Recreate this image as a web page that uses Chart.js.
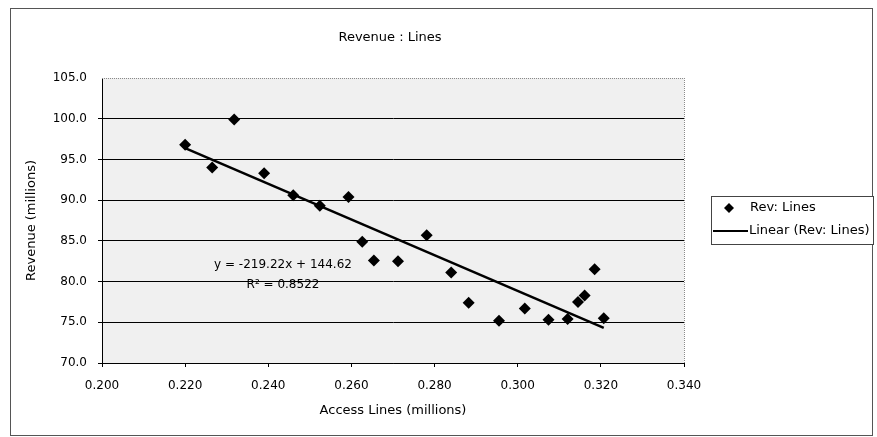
<!DOCTYPE html>
<html>
<head>
<meta charset="utf-8">
<title>Revenue : Lines</title>
<script src="https://cdn.jsdelivr.net/npm/chart.js@4.4.1/dist/chart.umd.min.js"></script>
<style>
  html, body { margin: 0; padding: 0; background: #ffffff; }
  #wrap { width: 877px; height: 437px; position: relative; }
</style>
</head>
<body>
<div id="wrap"><canvas id="chart" width="877" height="437"></canvas></div>
<script>
// Access lines (millions) and revenue (millions) per observation
const accessLines = [0.2200, 0.2265, 0.2318, 0.2390, 0.2460, 0.2524, 0.2593, 0.2626, 0.2654, 0.2712, 0.2781,
                     0.2840, 0.2882, 0.2955, 0.3017, 0.3074, 0.3120, 0.3145, 0.3161, 0.3185, 0.3207];
const revenue     = [96.8, 94.0, 99.9, 93.3, 90.6, 89.3, 90.4, 84.9, 82.6, 82.5, 85.7,
                     81.1, 77.4, 75.2, 76.7, 75.3, 75.4, 77.5, 78.3, 81.5, 75.5];

// Least-squares fit shown on the chart
const fitSlope = -219.22;
const fitIntercept = 144.62;
const fitR2 = 0.8522;

const xTicks = [0.200, 0.220, 0.240, 0.260, 0.280, 0.300, 0.320, 0.340];
const yTicks = [70.0, 75.0, 80.0, 85.0, 90.0, 95.0, 100.0, 105.0];

const chartTitle = 'Revenue : Lines';
const xTitle = 'Access Lines (millions)';
const yTitle = 'Revenue (millions)';
const seriesName = 'Rev: Lines';
const trendName = 'Linear (Rev: Lines)';

const FONT = '"DejaVu Sans", "Liberation Sans", Arial, sans-serif';

const points = accessLines.map((x, i) => ({ x: x, y: revenue[i] }));
const xMin = Math.min(...accessLines), xMax = Math.max(...accessLines);
const trend = [xMin, xMax].map(x => ({ x: x, y: fitSlope * x + fitIntercept }));

const eqText = 'y = ' + fitSlope.toFixed(2) + 'x + ' + fitIntercept.toFixed(2);
const r2Text = 'R\u00B2 = ' + fitR2.toFixed(4);

// Plot-area fill, frame, titles, fit equation and legend box
const decor = {
  id: 'decor',
  beforeDraw(chart) {
    const ctx = chart.ctx, a = chart.chartArea;
    ctx.save();
    ctx.fillStyle = '#ffffff';
    ctx.fillRect(0, 0, chart.width, chart.height);
    ctx.fillStyle = '#f0f0f0';
    ctx.fillRect(a.left, a.top, a.right - a.left, a.bottom - a.top);
    // outer frame
    ctx.strokeStyle = '#555555';
    ctx.lineWidth = 1;
    ctx.strokeRect(10.5, 8.5, 862, 427);
    ctx.restore();
  },
  afterDatasetsDraw(chart) {
    const ctx = chart.ctx, a = chart.chartArea;
    ctx.save();
    // dotted top and right edges of the plot area
    ctx.strokeStyle = '#8a8a8a';
    ctx.lineWidth = 1;
    ctx.setLineDash([1, 1]);
    ctx.beginPath();
    ctx.moveTo(a.left, Math.round(a.top) + 0.5);
    ctx.lineTo(a.right, Math.round(a.top) + 0.5);
    ctx.moveTo(Math.round(a.right) + 0.5, a.top);
    ctx.lineTo(Math.round(a.right) + 0.5, a.bottom);
    ctx.stroke();
    ctx.setLineDash([]);

    ctx.fillStyle = '#000000';
    ctx.textAlign = 'center';
    ctx.textBaseline = 'middle';
    // chart title
    ctx.font = '13px ' + FONT;
    ctx.fillText(chartTitle, 390, 38);
    // axis titles
    ctx.fillText(xTitle, (a.left + a.right) / 2, 411);
    ctx.save();
    ctx.translate(32, (a.top + a.bottom) / 2);
    ctx.rotate(-Math.PI / 2);
    ctx.fillText(yTitle, 0, 0);
    ctx.restore();
    // fit equation
    ctx.font = '12px ' + FONT;
    ctx.fillText(eqText, 283, 265);
    ctx.fillText(r2Text, 283, 285);

    // legend
    const lx = 711, ly = 196, lw = 162, lh = 48;
    ctx.fillStyle = '#ffffff';
    ctx.fillRect(lx, ly, lw, lh);
    ctx.strokeStyle = '#444444';
    ctx.strokeRect(lx + 0.5, ly + 0.5, lw, lh);
    const ds = chart.data.datasets;
    // scatter entry: diamond marker
    ctx.fillStyle = ds[0].backgroundColor;
    ctx.beginPath();
    ctx.moveTo(729, 208 - 5);
    ctx.lineTo(729 + 5, 208);
    ctx.lineTo(729, 208 + 5);
    ctx.lineTo(729 - 5, 208);
    ctx.closePath();
    ctx.fill();
    // trend entry: line sample
    ctx.strokeStyle = ds[1].borderColor;
    ctx.lineWidth = 2;
    ctx.beginPath();
    ctx.moveTo(713, 231);
    ctx.lineTo(748, 231);
    ctx.stroke();
    ctx.fillStyle = '#000000';
    ctx.font = '13px ' + FONT;
    ctx.textAlign = 'left';
    ctx.fillText(ds[0].label, 750, 208);
    ctx.fillText(ds[1].label, 749, 231);
    ctx.restore();
  }
};

new Chart(document.getElementById('chart'), {
  type: 'scatter',
  data: {
    datasets: [
      {
        label: seriesName,
        data: points,
        pointStyle: 'rectRot',
        pointRadius: 6,
        pointHoverRadius: 6,
        backgroundColor: '#000000',
        borderColor: '#000000',
        borderWidth: 0,
        showLine: false,
        order: 1
      },
      {
        label: trendName,
        data: trend,
        type: 'line',
        showLine: true,
        borderColor: '#000000',
        borderWidth: 2.5,
        pointRadius: 0,
        fill: false,
        order: 2
      }
    ]
  },
  options: {
    responsive: false,
    animation: false,
    devicePixelRatio: 1,
    layout: { padding: { left: 0, top: 78, right: 193, bottom: 0 } },
    plugins: {
      legend: { display: false },
      title: { display: false },
      tooltip: { enabled: false }
    },
    scales: {
      x: {
        type: 'linear',
        min: xTicks[0],
        max: xTicks[xTicks.length - 1],
        afterFit(scale) { scale.height = 74; },
        afterBuildTicks(scale) { scale.ticks = xTicks.map(v => ({ value: v })); },
        ticks: {
          padding: 12,
          color: '#000000',
          font: { family: FONT, size: 12 },
          callback: v => Number(v).toFixed(3)
        },
        grid: {
          drawOnChartArea: false,
          drawTicks: true,
          tickLength: 4,
          color: '#000000'
        },
        border: { display: true, color: '#000000', width: 1 }
      },
      y: {
        type: 'linear',
        min: yTicks[0],
        max: yTicks[yTicks.length - 1],
        afterFit(scale) { scale.width = 102; },
        afterBuildTicks(scale) { scale.ticks = yTicks.map(v => ({ value: v })); },
        ticks: {
          padding: 11,
          color: '#000000',
          font: { family: FONT, size: 12 },
          callback: v => Number(v).toFixed(1)
        },
        grid: {
          drawTicks: true,
          tickLength: 4,
          color: ctx => (ctx.tick && ctx.tick.value === yTicks[yTicks.length - 1]) ? 'rgba(0,0,0,0)' : '#000000',
          lineWidth: 1
        },
        border: { display: true, color: '#000000', width: 1 }
      }
    }
  },
  plugins: [decor]
});
</script>
</body>
</html>
